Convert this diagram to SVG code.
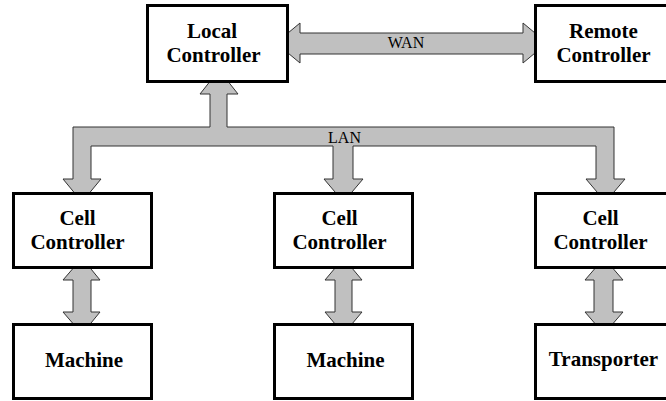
<svg xmlns="http://www.w3.org/2000/svg" width="666" height="401" viewBox="0 0 666 401">
<style>
.box{fill:#fff;stroke:#000;stroke-width:3}
.arr{fill:#c0c0c0;stroke:#333;stroke-width:1;stroke-linejoin:miter}
.t{font-family:"Liberation Serif","Times New Roman",serif;font-weight:bold;font-size:21px;fill:#000;text-anchor:middle}
.lbl{font-family:"Liberation Serif","Times New Roman",serif;font-size:16px;fill:#000;text-anchor:middle}
</style>
<rect width="666" height="401" fill="#fff"/>
<g id="connectors">
<polygon class="arr" points="276,43 300,23 300,33 523,33 523,23 547,43 523,63 523,54 300,54 300,63"/>
<polygon class="arr" points="73,127 210,127 210,94 200,94 219,70 238,94 227,94 227,127 614,127 614,179 625,179 605.5,202 586,179 596,179 596,146 353,146 353,179 363,179 343.5,202 324,179 333,179 333,146 91,146 91,179 101,179 82,202 63,179 73,179"/>
<polygon class="arr" points="82,258 100,280 91,280 91,312 100,312 82,334 63,312 73,312 73,280 63,280"/>
<polygon class="arr" points="343.5,258 362,280 352,280 352,312 362,312 343.5,334 325,312 335,312 335,280 325,280"/>
<polygon class="arr" points="604,258 623,280 613,280 613,312 623,312 604,334 585,312 594,312 594,280 585,280"/>
<text class="lbl" x="406" y="48">WAN</text>
<text class="lbl" x="344.5" y="143">LAN</text>
</g>
<g id="local">
<rect class="box" x="147.5" y="5.5" width="140" height="76"/>
<text class="t" x="212" y="38">Local</text>
<text class="t" x="213.5" y="62">Controller</text>
</g>
<g id="remote">
<rect class="box" x="535.5" y="5.5" width="142" height="76"/>
<text class="t" x="603.5" y="38">Remote</text>
<text class="t" x="603.5" y="62">Controller</text>
</g>
<g id="cell1">
<rect class="box" x="13.5" y="193.5" width="138" height="74"/>
<text class="t" x="77.5" y="225">Cell</text>
<text class="t" x="77.5" y="249">Controller</text>
</g>
<g id="cell2">
<rect class="box" x="274.5" y="193.5" width="138" height="74"/>
<text class="t" x="339.5" y="225">Cell</text>
<text class="t" x="339.5" y="249">Controller</text>
</g>
<g id="cell3">
<rect class="box" x="535.5" y="193.5" width="142" height="74"/>
<text class="t" x="600.5" y="225">Cell</text>
<text class="t" x="600.5" y="249">Controller</text>
</g>
<g id="machine1">
<rect class="box" x="13.5" y="324.5" width="138" height="74"/>
<text class="t" x="84" y="367">Machine</text>
</g>
<g id="machine2">
<rect class="box" x="274.5" y="324.5" width="138" height="74"/>
<text class="t" x="345.5" y="367">Machine</text>
</g>
<g id="transporter">
<rect class="box" x="535.5" y="324.5" width="142" height="74"/>
<text class="t" x="603.5" y="366">Transporter</text>
</g>
</svg>
